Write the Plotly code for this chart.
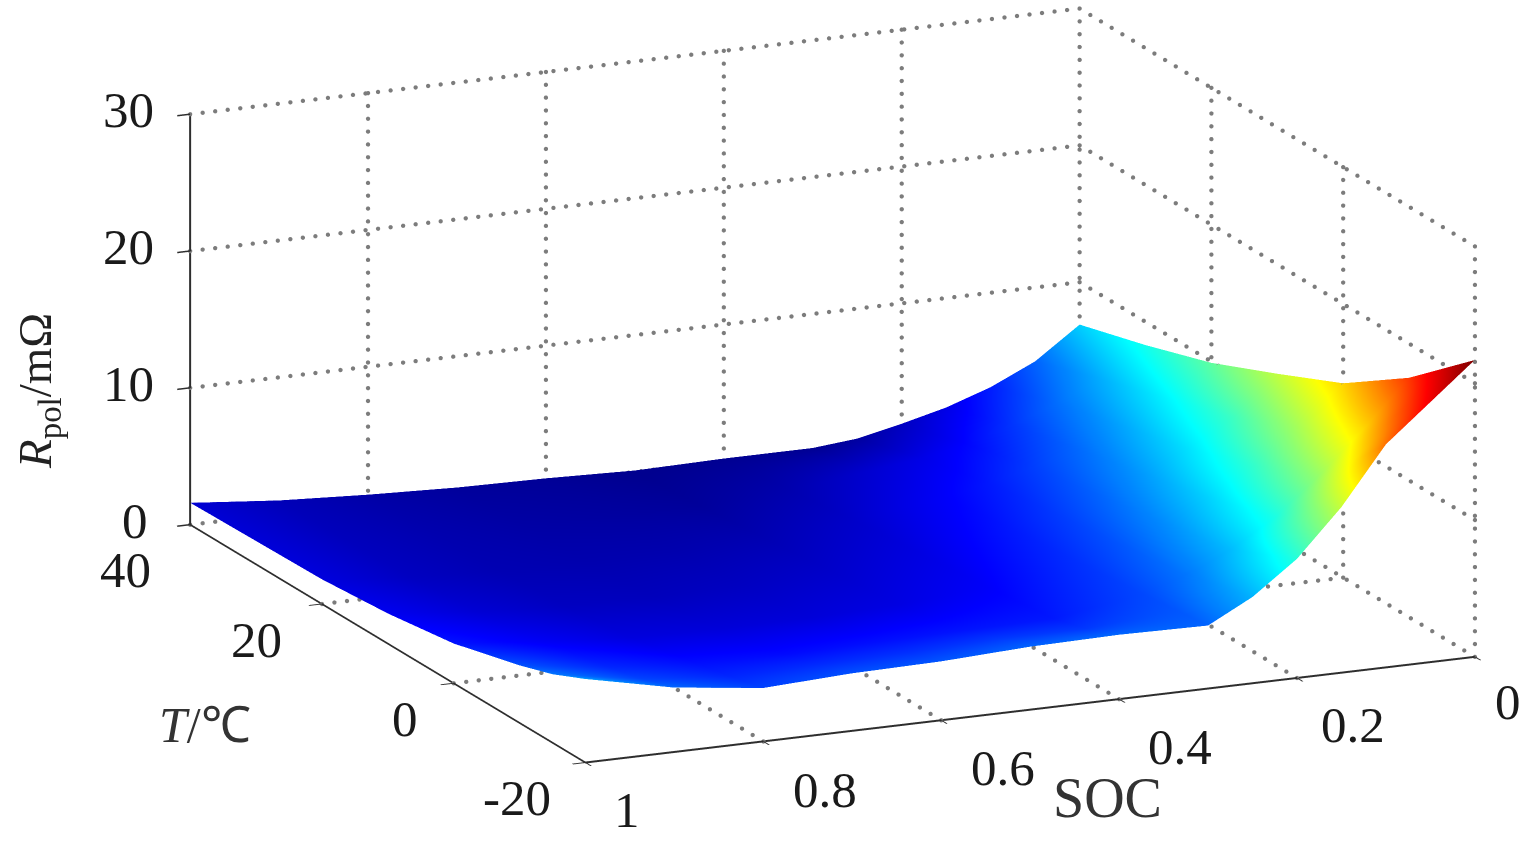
import plotly.graph_objects as go

SOC = [0, 0.05, 0.1, 0.15, 0.2, 0.25, 0.3, 0.4, 0.5, 0.6, 0.7, 0.8, 0.9, 1]
TEMP = [-20, -15, -10, 0, 10, 20, 30, 40]

# one row per temperature, one column per SOC
R_M20 = [21.7, 19.0, 16.3, 12.1, 8.7, 6.3, 4.6, 4.7, 4.6, 4.3, 4.2, 3.9, 4.7, 6.1]
R_M15 = [19.6, 16.7, 13.6, 10.4, 7.6, 5.7, 4.3, 3.7, 3.7, 3.5, 3.4, 3.3, 3.9, 5.0]
R_M10 = [17.5, 14.2, 11.2, 8.5, 6.5, 5.0, 4.0, 3.0, 2.9, 2.8, 2.7, 2.8, 3.3, 4.2]
R_0 = [14.2, 11.5, 9.0, 7.0, 5.5, 4.3, 3.5, 2.4, 1.9, 1.7, 1.7, 1.8, 2.3, 2.9]
R_10 = [12.0, 9.2, 7.3, 5.8, 4.6, 3.7, 3.0, 1.9, 1.4, 1.2, 1.1, 1.2, 1.6, 2.2]
R_20 = [9.9, 7.7, 6.0, 4.7, 3.8, 3.0, 2.4, 1.4, 0.9, 0.8, 0.8, 0.9, 1.2, 1.8]
R_30 = [8.3, 6.2, 4.8, 3.6, 2.6, 2.0, 1.6, 0.8, 0.4, 0.5, 0.6, 0.8, 1.1, 1.7]
R_40 = [6.9, 4.6, 3.1, 2.0, 1.2, 0.5, 0.2, 0.2, 0.1, 0.3, 0.4, 0.65, 1.0, 1.6]
R_POL = [R_M20, R_M15, R_M10, R_0, R_10, R_20, R_30, R_40]

SOC_TICKS = [0, 0.2, 0.4, 0.6, 0.8, 1]
SOC_LABELS = ["0", "0.2", "0.4", "0.6", "0.8", "1"]
TEMP_TICKS = [-20, 0, 20, 40]
Z_TICKS = [0, 10, 20, 30]

JET = [
    [0, "rgb(0,0,143)"],
    [0.11, "rgb(0,0,255)"],
    [0.36, "rgb(0,255,255)"],
    [0.61, "rgb(255,255,0)"],
    [0.86, "rgb(255,0,0)"],
    [1, "rgb(128,0,0)"],
]

INK = "#2e2e2e"
FONT = "Liberation Serif"

fig = go.Figure()

t_lo, t_hi = TEMP_TICKS[0], TEMP_TICKS[-1]
z_lo, z_hi = Z_TICKS[0], Z_TICKS[-1]

# dotted gridlines: gl3d dashes are too fine, so lay the dots out along each line
dots_x, dots_y, dots_z = [], [], []


def dotted(p0, p1, n):
    for i in range(n + 1):
        f = i / n
        dots_x.append(p0[0] + (p1[0] - p0[0]) * f)
        dots_y.append(p0[1] + (p1[1] - p0[1]) * f)
        dots_z.append(p0[2] + (p1[2] - p0[2]) * f)


for s in SOC_TICKS:
    if s != 1:
        dotted((s, t_hi, z_lo), (s, t_hi, z_hi), 32)
        dotted((s, t_lo, z_lo), (s, t_hi, z_lo), 37)
for t in TEMP_TICKS:
    dotted((0, t, z_lo), (0, t, z_hi), 32)
    if t != t_lo:
        dotted((0, t, z_lo), (1, t, z_lo), 71)
for z in Z_TICKS:
    dotted((1, t_hi, z), (0, t_hi, z), 71)
    dotted((0, t_hi, z), (0, t_lo, z), 37)

fig.add_trace(
    go.Scatter3d(
        x=dots_x,
        y=dots_y,
        z=dots_z,
        mode="markers",
        marker=dict(color="#7c7c7c", size=2.5, line=dict(width=0)),
        hoverinfo="skip",
        showlegend=False,
    )
)

fig.add_trace(
    go.Surface(
        x=SOC,
        y=TEMP,
        z=R_POL,
        colorscale=JET,
        showscale=False,
        hoverinfo="skip",
        lighting=dict(ambient=1, diffuse=0, specular=0, roughness=1, fresnel=0),
    )
)


def axis(**kwargs):
    return dict(
        showgrid=False,
        zeroline=False,
        showline=True,
        linecolor=INK,
        linewidth=4,
        showbackground=False,
        showspikes=False,
        ticks="outside",
        ticklen=14,
        tickwidth=3,
        tickcolor=INK,
        showticklabels=False,
        title=dict(text=""),
        **kwargs,
    )


def tick_label(text, x, y, z, dx, dy):
    return dict(
        text=str(text),
        x=x,
        y=y,
        z=z,
        showarrow=False,
        xanchor="center",
        yanchor="middle",
        xshift=dx,
        yshift=-dy,
        font=dict(family=FONT, size=51, color="#1a1a1a"),
    )


# label nudges in pixels, the reference spacing is uneven
TEMP_NUDGE = {40: (-65, 45), 20: (-65, 36), 0: (-49, 36), -20: (-68, 35)}
SOC_NUDGE = {"0": (33, 45), "0.2": (56, 47), "0.4": (61, 48), "0.6": (62, 48), "0.8": (62, 48), "1": (42, 47)}

scene_labels = []
for z in Z_TICKS:
    scene_labels.append(tick_label(z, 1, t_hi, z, -62 if z else -55, -4))
for t in TEMP_TICKS:
    scene_labels.append(tick_label(t, 1, t, z_lo, *TEMP_NUDGE[t]))
for s, lab in zip(SOC_TICKS, SOC_LABELS):
    scene_labels.append(tick_label(lab, s, t_lo, z_lo, *SOC_NUDGE[lab]))

annotations = [
    dict(
        text="<i>R</i><sub>pol</sub>/mΩ",
        x=38,
        y=391,
        textangle=-90,
        font=dict(family=FONT, size=47, color="#222222"),
    ),
    dict(text="<i>T</i>/℃", x=205, y=725, font=dict(family=FONT, size=50, color="#333333")),
    dict(text="SOC", x=1107, y=798, font=dict(family=FONT, size=56, color="#333333")),
]
# positions above are in image pixels
for a in annotations:
    a.update(
        xref="paper",
        yref="paper",
        x=a["x"] / 1531,
        y=1 - a["y"] / 841,
        xanchor="center",
        yanchor="middle",
        showarrow=False,
    )

fig.update_layout(
    width=1531,
    height=841,
    margin=dict(l=0, r=0, t=0, b=0),
    paper_bgcolor="white",
    showlegend=False,
    scene=dict(
        domain=dict(x=[0.0875, 1.0], y=[0.083, 1.0]),
        aspectmode="manual",
        aspectratio=dict(x=2.525, y=2.525, z=1.105),
        camera=dict(
            projection=dict(type="orthographic"),
            eye=dict(x=-0.6, y=-1.35, z=0.41),
            up=dict(x=0, y=0, z=1),
        ),
        xaxis=axis(range=[1, 0], tickvals=SOC_TICKS, ticktext=SOC_LABELS),
        yaxis=axis(range=[t_lo, t_hi], tickvals=TEMP_TICKS),
        zaxis=axis(range=[z_lo, z_hi], tickvals=Z_TICKS),
        annotations=scene_labels,
    ),
    annotations=annotations,
)

fig.write_html(
    "out.html",
    config=dict(displayModeBar=False),
    post_script="document.body.style.margin = 0;",
)
